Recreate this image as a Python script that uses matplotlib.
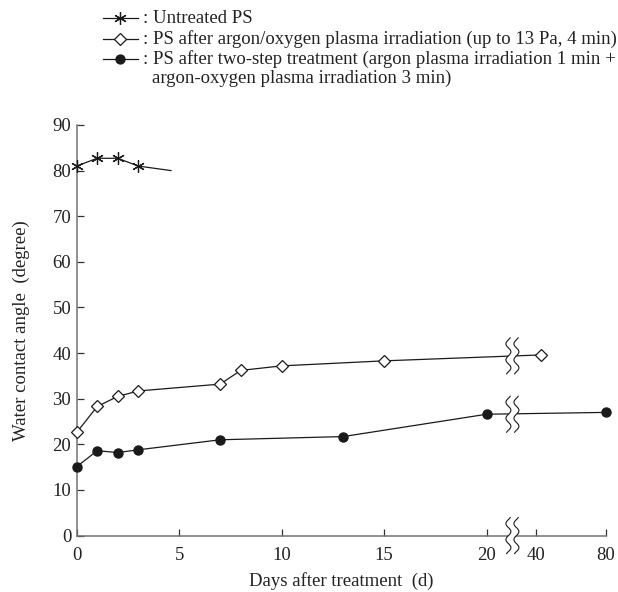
import numpy as np
import matplotlib
matplotlib.use("Agg")
import matplotlib.pyplot as plt
import matplotlib.transforms as mtransforms
from matplotlib.lines import Line2D
from matplotlib.patches import Polygon

plt.rcParams['font.family'] = ['Liberation Serif', 'DejaVu Serif']
plt.rcParams['font.size'] = 13.5

# data (days, contact angle in degrees)
untreated_days = [0, 1, 2, 3]
untreated_angle = [81.0, 82.7, 82.7, 81.0]
untreated_tail_days = [3, 4.6]
untreated_tail_angle = [81.0, 80.0]

arox_days = [0, 1, 2, 3, 7, 8, 10, 15, 43]
arox_angle = [22.6, 28.3, 30.5, 31.7, 33.2, 36.2, 37.2, 38.3, 39.6]

twostep_days = [0, 1, 2, 3, 7, 13, 20, 80]
twostep_angle = [15.1, 18.6, 18.2, 18.8, 21.0, 21.7, 26.6, 27.0]

x_ticks = [0, 5, 10, 15, 20, 40, 80]
y_ticks = [0, 10, 20, 30, 40, 50, 60, 70, 80, 90]

legend_labels = [": Untreated PS",
                 ": PS after argon/oxygen plasma irradiation (up to 13 Pa, 4 min)",
                 ": PS after two-step treatment (argon plasma irradiation 1 min +"]
legend_extra = "argon-oxygen plasma irradiation 3 min)"


# broken x axis: 0-20 linear, then compressed 20-40 and 40-80
def fwd(x):
    x = np.asarray(x, dtype=float)
    return np.where(x <= 20, x,
                    np.where(x <= 40, 20 + (x - 20) * 0.1195,
                             22.39 + (x - 40) * 0.08575))


def inv(u):
    u = np.asarray(u, dtype=float)
    return np.where(u <= 20, u,
                    np.where(u <= 22.39, 20 + (u - 20) / 0.1195,
                             40 + (u - 22.39) / 0.08575))


fig = plt.figure(figsize=(6.18, 5.92), dpi=100)
ax = fig.add_axes([0.1241, 0.0953, 0.8565, 0.6936])
ax.set_xscale('function', functions=(fwd, inv))
ax.set_xlim(0, 80)
ax.set_ylim(0, 90)

lc = '#1a1a1a'
tc = '#222222'
ax.plot(untreated_tail_days, untreated_tail_angle, color=lc, lw=0.9, zorder=2)
ax.plot(untreated_days, untreated_angle, color=lc, lw=0.9, marker=(6, 2, 0),
        ms=9, mew=0.9, zorder=3, clip_on=False)
ax.plot(arox_days, arox_angle, color=lc, lw=0.9, marker='D', ms=6,
        mfc='white', mec=lc, mew=0.9, zorder=3, clip_on=False)
ax.plot(twostep_days, twostep_angle, color=lc, lw=0.9, marker='o', ms=6.5,
        mfc=lc, mec=lc, zorder=3, clip_on=False)

for s in ['top', 'right']:
    ax.spines[s].set_visible(False)
for s in ['left', 'bottom']:
    ax.spines[s].set_color('0.45')
    ax.spines[s].set_linewidth(1.1)

ax.set_xticks(x_ticks)
ax.set_xticklabels([str(t) for t in x_ticks])
ax.xaxis.set_minor_locator(matplotlib.ticker.NullLocator())
ax.set_yticks(y_ticks)
ax.tick_params(direction='in', length=5, width=0.9, color='#333333',
               labelsize=13.5, labelcolor=tc, pad=4)
ax.tick_params(axis='x', pad=8)

ax.set_xlabel("Days after treatment  (d)", fontsize=13.5, color=tc, labelpad=6)
ax.set_ylabel("Water contact angle  (degree)", fontsize=13.5, color=tc, labelpad=16)


# break marks
def draw_break(xd, yd, h=0.36):
    trans = fig.dpi_scale_trans + mtransforms.ScaledTranslation(xd, yd, ax.transData)
    yy = np.linspace(-h / 2, h / 2, 60)
    wave = 0.025 * np.sin(2 * np.pi * yy / 0.16)
    left = np.column_stack([-0.045 + wave, yy])
    right = np.column_stack([0.035 + wave, yy])
    poly = Polygon(np.vstack([left, right[::-1]]), closed=True, fc='white',
                   ec='none', transform=trans, zorder=4, clip_on=False)
    ax.add_patch(poly)
    for pts in (left, right):
        ax.add_line(Line2D(pts[:, 0], pts[:, 1], color=lc, lw=0.8,
                           transform=trans, zorder=5, clip_on=False))


x_break = 30.7
draw_break(x_break, 0)
draw_break(x_break, 26.6)
draw_break(x_break, 39.4)

# legend drawn by hand
W, H = 618.0, 592.0
rows = [18, 39, 59]
mk = [dict(marker=(6, 2, 0), ms=9, mfc=lc),
      dict(marker='D', ms=6, mfc='white'),
      dict(marker='o', ms=6.5, mfc=lc)]
for r, lab, m in zip(rows, legend_labels, mk):
    yf = 1 - r / H
    fig.add_artist(Line2D([103 / W, 138 / W], [yf, yf], color=lc, lw=0.9,
                          transform=fig.transFigure))
    fig.add_artist(Line2D([120.5 / W], [yf], color=lc, ls='none', mec=lc,
                          mew=0.9, transform=fig.transFigure, **m))
    fig.text(143 / W, 1 - (r + 5) / H, lab, ha='left', va='baseline',
             fontsize=13.5, color=tc)
fig.text(152 / W, 1 - (rows[2] + 24) / H, legend_extra,
         ha='left', va='baseline', fontsize=13.5, color=tc)

fig.savefig("out.png", dpi=100)
